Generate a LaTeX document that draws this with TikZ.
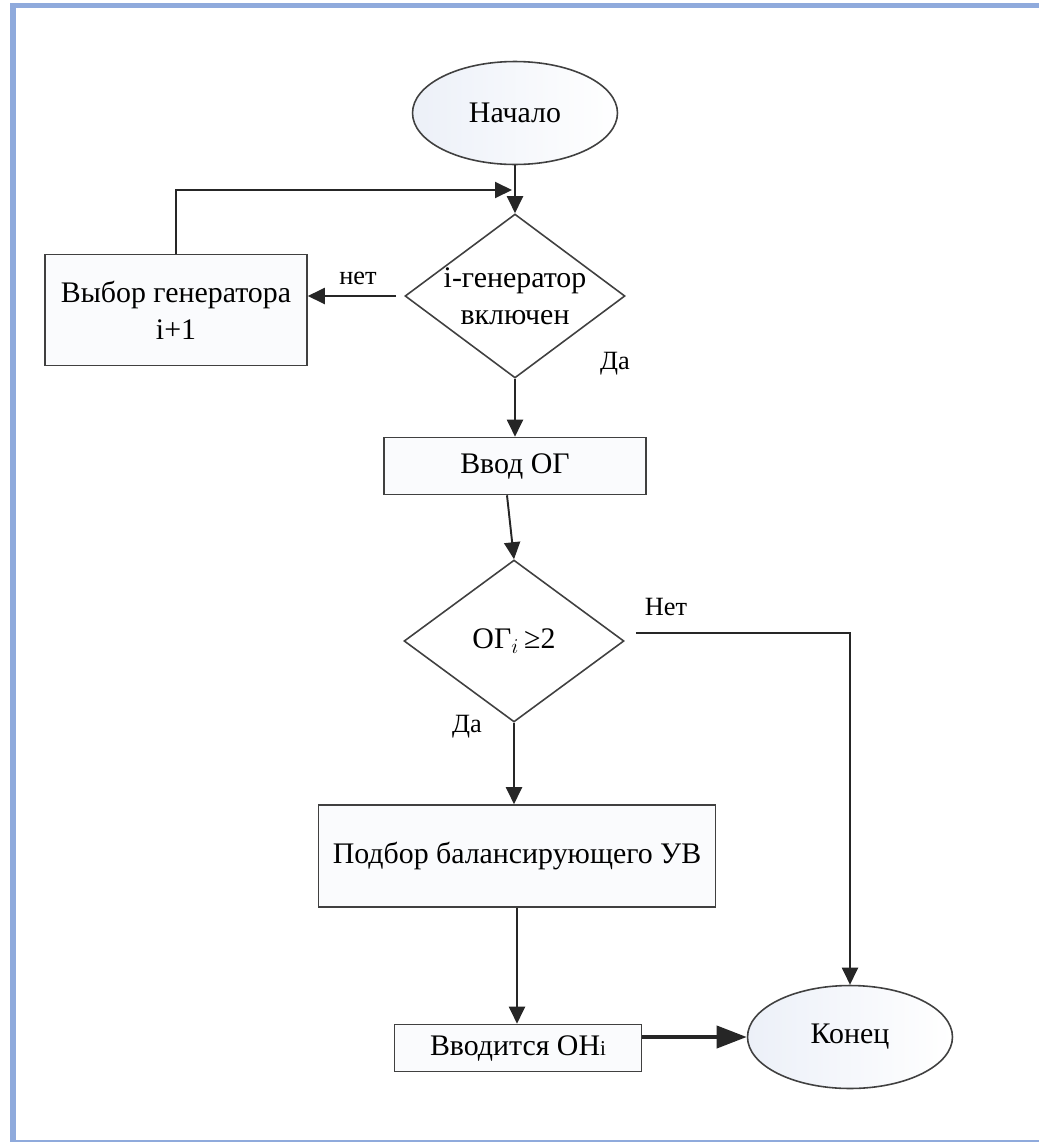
\documentclass[tikz,border=0pt]{standalone}
\usepackage{fontspec}
\setmainfont{Liberation Serif}
\usetikzlibrary{shapes.geometric,arrows.meta}
\definecolor{frameblue}{RGB}{143,170,220}
\definecolor{termfill}{RGB}{236,240,248}

\begin{document}
\begin{tikzpicture}[x=0.02cm,y=-0.02cm,
    base/.style={draw=black!75,line width=0.9pt,font=\fontsize{17}{21}\selectfont,align=center},
    term/.style={base,ellipse,inner sep=0pt,minimum width=4.1cm,minimum height=2.06cm,left color=termfill,right color=white},
    proc/.style={base,rectangle,inner sep=0pt,fill=termfill!25},
    cond/.style={base,diamond,inner sep=0pt,aspect=1.35,fill=white},
    flow/.style={draw=black!85,line width=1.1pt,-{Triangle[length=0.34cm,width=0.32cm]}},
    lbl/.style={font=\fontsize{15}{18}\selectfont}]
    \useasboundingbox (0,0) rectangle (1039,1143);

    % Frame
    \draw[frameblue,line width=0.1cm] (10,5) -- (1039,5);
    \draw[frameblue,line width=0.12cm] (13,3) -- (13,1141);
    \draw[frameblue,line width=0.04cm] (10,1141) -- (1039,1141);

    % Nodes
    \node[term] (start) at (515,113) {Начало};
    \node[cond,minimum width=4.4cm,minimum height=3.28cm] (gen) at (515,296) {i-генератор\\включен};
    \node[proc,minimum width=5.24cm,minimum height=2.22cm] (next) at (176,310) {Выбор генератора\\i+1};
    \node[proc,minimum width=5.24cm,minimum height=1.14cm] (ogin) at (515,466) {Ввод ОГ};
    \node[cond,minimum width=4.4cm,minimum height=3.24cm] (check) at (514,641) {ОГ$_i$\,≥2};
    \node[proc,minimum width=7.94cm,minimum height=2.04cm] (pick) at (517,856) {Подбор балансирующего УВ};
    \node[proc,minimum width=4.94cm,minimum height=0.94cm] (load) at (518,1048) {Вводится ОН{\fontsize{12}{14}\selectfont i}};
    \node[term] (fin) at (850,1037) {Конец};
    \coordinate (join) at (515,190);

    % Connectors
    \draw[flow] (start.south) -- (gen.north);
    \draw[flow] (next.north) |- ([xshift=-0.06cm]join);
    \draw[flow] ([xshift=-0.16cm]gen.west) -- (gen.west -| next.east);
    \draw[flow] (gen.south) -- (ogin.north);
    \draw[flow] ([xshift=-0.16cm]ogin.south) -- (check.north);
    \draw[flow] ([shift={(0.22cm,0.16cm)}]check.east) -| (fin.north);
    \draw[flow] (check.south) -- (check.south |- pick.north);
    \draw[flow] (pick.south) -- (pick.south |- load.north);
    \draw[flow,line width=2.2pt,-{Triangle[length=0.6cm,width=0.44cm]}] (load.east |- fin.west) -- (fin.west);

    % Labels
    \node[lbl] (no1) at (358,278) {нет};
    \node[lbl] (yes1) at (615,364) {Да};
    \node[lbl] (no2) at (666,607) {Нет};
    \node[lbl] (yes2) at (467,727) {Да};
\end{tikzpicture}
\end{document}
